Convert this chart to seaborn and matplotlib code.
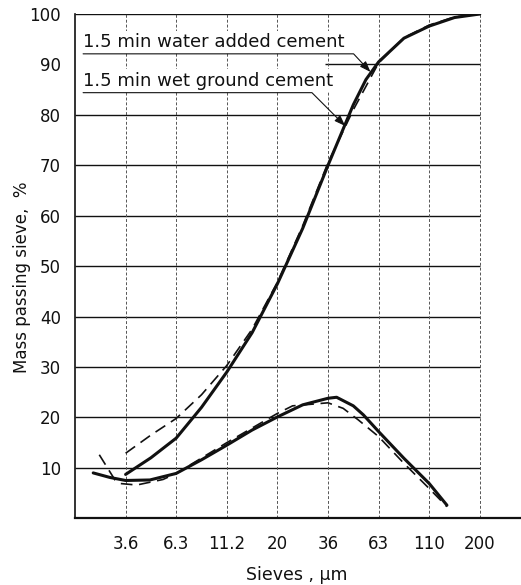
import pandas as pd
import seaborn as sns
import matplotlib
matplotlib.use("Agg")
import matplotlib.pyplot as plt

# sieve sizes (µm), evenly spaced on the chart at positions 1..8
SIEVES = ["3.6", "6.3", "11.2", "20", "36", "63", "110", "200"]
SIEVE_POS = [1, 2, 3, 4, 5, 6, 7, 8]

# cumulative mass passing, water added cement (solid)
CUM_SOLID_X = [1.0, 1.5, 2.0, 2.5, 3.0, 3.5, 4.0, 4.5, 5.0, 5.25, 5.5, 5.75, 6.0, 6.5, 7.0, 7.5, 8.0]
CUM_SOLID_Y = [8.7, 12.0, 15.9, 22.0, 29.0, 36.8, 46.5, 57.5, 70.0, 76.0, 82.0, 87.0, 90.5, 95.2, 97.6, 99.3, 100.0]

# cumulative mass passing, wet ground cement (dashed)
CUM_DASH_X = [1.0, 1.5, 2.0, 2.5, 3.0, 3.5, 4.0, 4.5, 5.0, 5.5, 6.0, 6.5, 7.0, 7.5, 8.0]
CUM_DASH_Y = [12.9, 16.5, 19.8, 24.5, 30.3, 37.5, 46.8, 58.0, 70.5, 81.0, 90.3, 95.3, 97.8, 99.4, 100.0]

# fraction between sieves, water added cement (solid)
FRAC_SOLID_X = [0.36, 0.69, 1.0, 1.48, 2.0, 2.5, 3.0, 3.5, 4.0, 4.5, 5.0, 5.17, 5.5, 5.7, 6.0, 6.5, 7.0, 7.35]
FRAC_SOLID_Y = [9.0, 8.1, 7.5, 7.6, 8.9, 11.6, 14.5, 17.5, 20.1, 22.5, 23.8, 24.0, 22.3, 20.5, 17.2, 11.9, 6.9, 2.6]

# fraction between sieves, wet ground cement (dashed)
FRAC_DASH_X = [0.48, 0.79, 0.89, 1.22, 1.74, 2.0, 3.0, 4.0, 4.3, 5.0, 5.3, 5.6, 6.0, 6.5, 7.0, 7.35]
FRAC_DASH_Y = [12.6, 7.6, 6.9, 6.6, 7.7, 8.9, 15.0, 20.8, 22.3, 22.9, 21.8, 19.5, 16.2, 10.9, 5.9, 2.3]

Y_TICKS = [10, 20, 30, 40, 50, 60, 70, 80, 90, 100]

sns.set_theme(style="white")
plt.rcParams["font.family"] = ["DejaVu Sans"]

fig = plt.figure(figsize=(5.21, 5.85), dpi=100)
ax = fig.add_axes([75 / 521, 66.7 / 585, 446 / 521, 504.3 / 585])

# grid: solid horizontals, dashed verticals
for v in Y_TICKS:
    start = 4.95 if v == 90 else 0
    ax.hlines(v, start, 8, color="#111111", lw=1.0, zorder=1)
ax.vlines(SIEVE_POS, 0, 100, color="#555555", lw=0.7, linestyles=(0, (3, 2)), zorder=1)

ink = "#111111"
sns.lineplot(x=CUM_SOLID_X, y=CUM_SOLID_Y, ax=ax, color=ink, lw=2.2, sort=False, estimator=None, zorder=4)
sns.lineplot(x=CUM_DASH_X, y=CUM_DASH_Y, ax=ax, color=ink, lw=1.2, sort=False, estimator=None,
             linestyle=(0, (7, 4)), zorder=4)
sns.lineplot(x=FRAC_SOLID_X, y=FRAC_SOLID_Y, ax=ax, color=ink, lw=2.2, sort=False, estimator=None, zorder=4)
sns.lineplot(x=FRAC_DASH_X, y=FRAC_DASH_Y, ax=ax, color=ink, lw=1.2, sort=False, estimator=None,
             linestyle=(0, (7, 4)), zorder=4)

# labels with underline leaders
arrow = "-|>,head_length=0.55,head_width=0.2"
ax.text(0.16, 92.7, "1.5 min water added cement", fontsize=13, color=ink, va="bottom", ha="left",
        bbox=dict(facecolor="white", edgecolor="none", pad=1.5), zorder=2)
ax.annotate("", xy=(5.84, 88.5), xytext=(0.16, 92.1),
            arrowprops=dict(arrowstyle=arrow, color=ink, lw=0.8,
                            connectionstyle="angle,angleA=0,angleB=133,rad=0", shrinkA=0, shrinkB=0),
            zorder=3)
ax.text(0.16, 85.0, "1.5 min wet ground cement", fontsize=13, color=ink, va="bottom", ha="left",
        bbox=dict(facecolor="white", edgecolor="none", pad=1.5), zorder=2)
ax.annotate("", xy=(5.34, 77.8), xytext=(0.16, 84.4),
            arrowprops=dict(arrowstyle=arrow, color=ink, lw=0.8,
                            connectionstyle="angle,angleA=0,angleB=135,rad=0", shrinkA=0, shrinkB=0),
            zorder=3)

ax.set_xlim(0, 8.814)
ax.set_ylim(0, 100)
ax.set_xticks(SIEVE_POS)
ax.set_xticklabels(SIEVES)
ax.set_yticks(Y_TICKS)
ax.tick_params(axis="both", length=0, labelsize=12, colors=ink)
ax.tick_params(axis="x", pad=12)
ax.tick_params(axis="y", pad=10)

for side in ["top", "right"]:
    ax.spines[side].set_visible(False)
ax.spines["left"].set_color(ink)
ax.spines["left"].set_linewidth(1.2)
ax.spines["bottom"].set_color(ink)
ax.spines["bottom"].set_linewidth(1.6)

ax.set_xlabel("Sieves , µm", fontsize=12.5, color=ink)
ax.set_ylabel("Mass passing sieve,  %", fontsize=12, color=ink)
ax.xaxis.set_label_coords(0.498, -0.094)
ax.yaxis.set_label_coords(-0.099, 0.478)

fig.savefig("out.png", dpi=100, facecolor="white")
